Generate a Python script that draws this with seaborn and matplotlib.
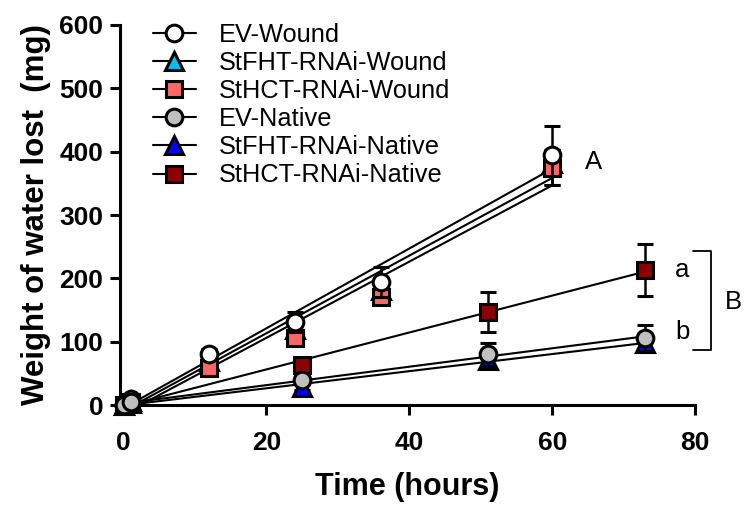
import numpy as np
import pandas as pd
import seaborn as sns
import matplotlib.pyplot as plt
from matplotlib.lines import Line2D

# datos
wound_time = [0, 1, 12, 24, 36, 60]
native_time = [0, 1, 25, 51, 73]

ev_wound = [0, 10, 80, 131, 194, 394]
ev_wound_sd = [0, 3, 8, 16, 24, 47]
fht_wound = [0, 6, 70, 120, 182, 382]
fht_wound_sd = [0, 3, 8, 12, 15, 20]
hct_wound = [0, 5, 58, 106, 171, 375]
hct_wound_sd = [0, 3, 8, 10, 12, 28]

ev_native = [0, 5, 39, 80, 106]
ev_native_sd = [0, 2, 6, 18, 20]
fht_native = [0, 3, 28, 71, 98]
fht_native_sd = [0, 2, 5, 10, 12]
hct_native = [0, 4, 63, 147, 213]
hct_native_sd = [0, 2, 8, 32, 41]

labels = ['EV-Wound', 'StFHT-RNAi-Wound', 'StHCT-RNAi-Wound',
          'EV-Native', 'StFHT-RNAi-Native', 'StHCT-RNAi-Native']

sns.set_theme(style='ticks')
plt.rcParams['font.family'] = ['Liberation Sans', 'DejaVu Sans']
for k in ['text.color', 'axes.labelcolor', 'xtick.color', 'ytick.color']:
    plt.rcParams[k] = 'black'

series = [
    # (tiempo, media, sd, marcador, color, zorder)
    (wound_time, ev_wound, ev_wound_sd, 'o', 'white', 6),
    (wound_time, fht_wound, fht_wound_sd, '^', '#00BFF0', 4),
    (wound_time, hct_wound, hct_wound_sd, 's', '#FF6666', 5),
    (native_time, ev_native, ev_native_sd, 'o', '#C0C0C0', 6),
    (native_time, fht_native, fht_native_sd, '^', '#0000FF', 4),
    (native_time, hct_native, hct_native_sd, 's', '#8B0000', 5),
]

fig = plt.figure(figsize=(7.45, 5.16), dpi=100)
ax = fig.add_axes([0.161, 0.215, 0.772, 0.7366])

# rectas de regresion
for t, m, sd, mk, col, z in series:
    df = pd.DataFrame({'t': t, 'w': m})
    sns.regplot(data=df, x='t', y='w', ax=ax, scatter=False, ci=None, truncate=True,
                line_kws=dict(color='black', lw=1.5, zorder=2))

# puntos con barras de error
handles = []
for (t, m, sd, mk, col, z), lab in zip(series, labels):
    ms = 13 if mk == '^' else 12
    ax.errorbar(t, m, yerr=sd, fmt=mk, color='black', mfc=col, mec='black', mew=2.2,
                ms=ms, ecolor='black', elinewidth=1.8, capsize=6, capthick=1.8,
                zorder=z, clip_on=False)
    handles.append(Line2D([], [], color='black', lw=1.5, marker=mk, mfc=col, mec='black',
                          mew=2.2, ms=ms))

ax.set_xlim(-0.5, 80)
ax.set_ylim(0, 600)
ax.set_xticks([0, 20, 40, 60, 80])
ax.set_yticks([0, 100, 200, 300, 400, 500, 600])
ax.set_xlabel('Time (hours)', fontsize=22, fontweight='bold', labelpad=12)
ax.set_ylabel('Weight of water lost  (mg)', fontsize=22.5, fontweight='bold', labelpad=6)
ax.tick_params(axis='both', which='major', labelsize=19, width=2.2, length=7, color='black')
ax.tick_params(axis='x', pad=12)
ax.tick_params(axis='y', pad=5)
for lab in ax.get_xticklabels() + ax.get_yticklabels():
    lab.set_fontweight('bold')
sns.despine(ax=ax)
for s in ['left', 'bottom']:
    ax.spines[s].set_linewidth(2.2)
    ax.spines[s].set_color('black')

ax.legend(handles, labels, loc='upper left', bbox_to_anchor=(0.057, 1.005), frameon=False,
          fontsize=18.3, handlelength=1.7, handletextpad=0.9, labelspacing=0.16,
          borderpad=0, borderaxespad=0)

# letras de significancia
ax.text(65.8, 384, 'A', fontsize=18.5, ha='center', va='center', clip_on=False)
ax.text(78.2, 213, 'a', fontsize=18.5, ha='center', va='center', clip_on=False)
ax.text(78.2, 116, 'b', fontsize=18.5, ha='center', va='center', clip_on=False)
ax.text(85.4, 162, 'B', fontsize=18.5, ha='center', va='center', clip_on=False)
ax.plot([79.7, 82.2, 82.2, 79.7], [243, 243, 87, 87], color='black', lw=1.3, clip_on=False)

fig.savefig('out.png', dpi=100)
